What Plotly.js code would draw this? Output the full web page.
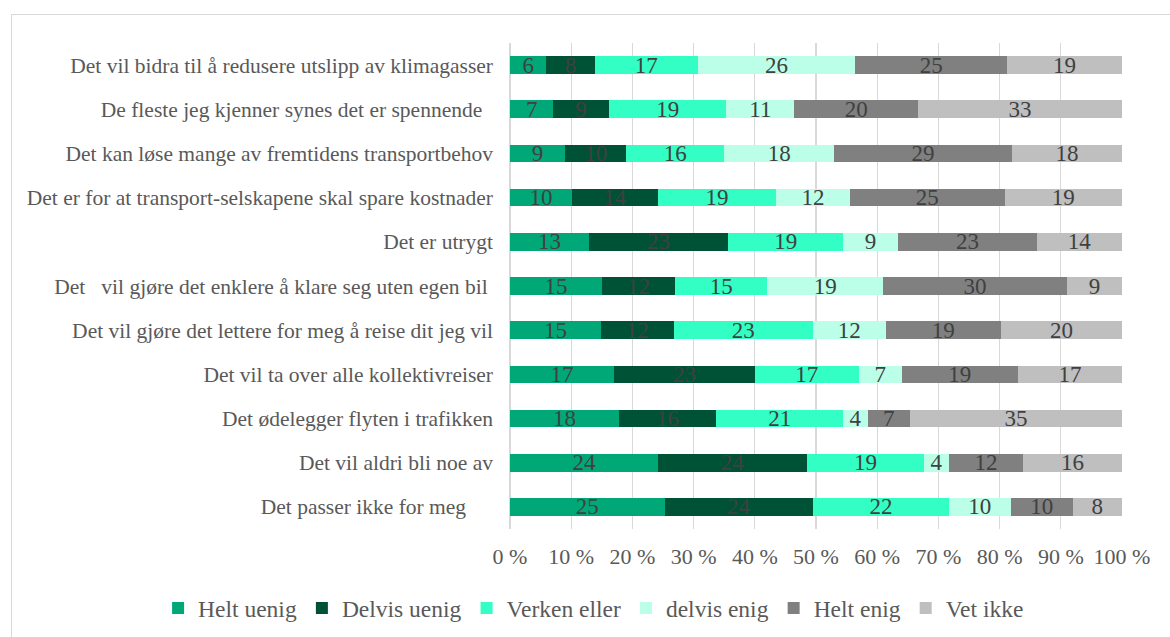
<!DOCTYPE html>
<html>
<head>
<meta charset="utf-8">
<script src="https://cdn.plot.ly/plotly-3.0.1.min.js"></script>
<style>
  html, body { margin: 0; padding: 0; background: #fff; }
  #wrap { position: relative; width: 1170px; height: 637px; }
  #chart { width: 1170px; height: 637px; }
  #frame { position: absolute; left: 11px; top: 14px; width: 1200px; height: 700px;
           border-left: 1.5px solid #d9d9d9; border-top: 1.5px solid #d9d9d9; pointer-events: none; }
</style>
</head>
<body>
<div id="wrap"><div id="chart"></div><div id="frame"></div></div>
<script>
const categories = [
  "Det vil bidra til å redusere utslipp av klimagasser",
  "De fleste jeg kjenner synes det er spennende\u00a0\u00a0",
  "Det kan løse mange av fremtidens transportbehov",
  "Det er for at transport-selskapene skal spare kostnader",
  "Det er utrygt",
  "Det\u00a0\u00a0 vil gjøre det enklere å klare seg uten egen bil\u00a0",
  "Det vil gjøre det lettere for meg å reise dit jeg vil",
  "Det vil ta over alle kollektivreiser",
  "Det ødelegger flyten i trafikken",
  "Det vil aldri bli noe av",
  "Det passer ikke for meg\u00a0\u00a0\u00a0\u00a0\u00a0"
];
const seriesNames = ["Helt uenig", "Delvis uenig", "Verken eller", "delvis enig", "Helt enig", "Vet ikke"];
const heltUenig   = [6, 7, 9, 10, 13, 15, 15, 17, 18, 24, 25];
const delvisUenig = [8, 9, 10, 14, 23, 12, 12, 23, 16, 24, 24];
const verkenEller = [17, 19, 16, 19, 19, 15, 23, 17, 21, 19, 22];
const delvisEnig  = [26, 11, 18, 12, 9, 19, 12, 7, 4, 4, 10];
const heltEnig    = [25, 20, 29, 25, 23, 30, 19, 19, 7, 12, 10];
const vetIkke     = [19, 33, 18, 19, 14, 9, 20, 17, 35, 16, 8];
const tickValues = [0, 10, 20, 30, 40, 50, 60, 70, 80, 90, 100];

const seriesValues = [heltUenig, delvisUenig, verkenEller, delvisEnig, heltEnig, vetIkke];
const colors = ["#00a878", "#005236", "#33ffc4", "#bbffe8", "#808080", "#bfbfbf"];
const FONT = "Liberation Serif, Times New Roman, serif";

const traces = seriesValues.map((vals, i) => ({
  type: "bar",
  orientation: "h",
  name: seriesNames[i],
  y: categories,
  x: vals,
  text: vals.map(String),
  textposition: "inside",
  insidetextanchor: "middle",
  textangle: 0,
  constraintext: "none",
  textfont: { family: FONT, size: 23, color: "#404040" },
  marker: { color: colors[i], line: { width: 0 } },
  hoverinfo: "skip"
}));

const layout = {
  width: 1170,
  height: 637,
  barmode: "stack",
  barnorm: "percent",
  bargap: 0.6,
  paper_bgcolor: "#ffffff",
  plot_bgcolor: "#ffffff",
  margin: { l: 510, r: 48, t: 43, b: 108, autoexpand: false },
  font: { family: FONT, size: 18, color: "#595959" },
  xaxis: {
    range: [0, 100],
    tickvals: tickValues,
    ticktext: tickValues.map(v => v + "\u00a0%"),
    showgrid: true,
    gridcolor: "#d9d9d9",
    gridwidth: 1.3,
    zeroline: true,
    zerolinecolor: "#d9d9d9",
    zerolinewidth: 1.3,
    showline: false,
    ticks: "",
    ticklabelstandoff: 12,
    tickfont: { size: 22, color: "#595959" },
    fixedrange: true
  },
  yaxis: {
    autorange: "reversed",
    type: "category",
    showgrid: false,
    zeroline: false,
    showline: false,
    ticks: "",
    ticklabelstandoff: 16,
    tickfont: { size: 21.5, color: "#595959" },
    fixedrange: true
  },
  showlegend: true,
  legend: {
    orientation: "h",
    xref: "paper",
    yref: "paper",
    x: -0.575,
    xanchor: "left",
    y: -0.163,
    yanchor: "middle",
    font: { size: 23.5, color: "#595959" },
    traceorder: "normal",
    itemwidth: 30
  }
};

Plotly.newPlot("chart", traces, layout, { displayModeBar: false, staticPlot: true });
</script>
</body>
</html>
